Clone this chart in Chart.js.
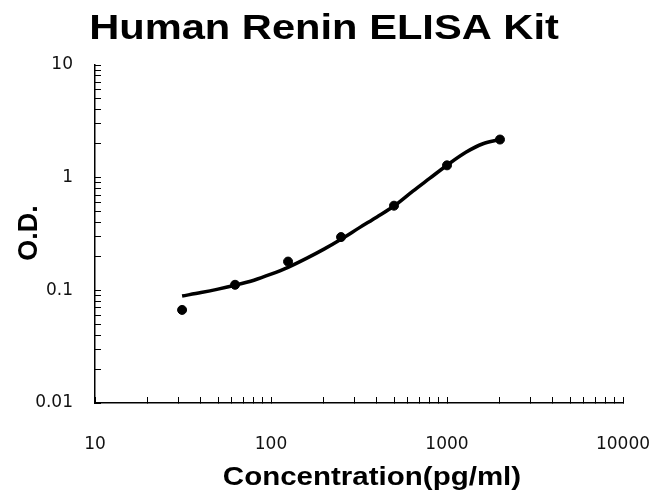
<!DOCTYPE html>
<html>
<head>
<meta charset="utf-8">
<script src="https://cdn.jsdelivr.net/npm/chart.js@4"></script>
<style>
  html, body { margin: 0; padding: 0; background: #fff; }
  #wrap { width: 654px; height: 495px; }
</style>
</head>
<body>
<div id="wrap"><canvas id="elisaChart" width="654" height="495"></canvas></div>
<script>
const chartTitle = 'Human Renin ELISA Kit';
const xAxisTitle = 'Concentration(pg/ml)';
const yAxisTitle = 'O.D.';

// standards (measured points)
const concentrations = [31.25, 62.5, 125, 250, 500, 1000, 2000];
const odValues = [0.067, 0.112, 0.180, 0.297, 0.564, 1.286, 2.18];

// fitted curve
const curveConc = [31.25, 40, 50, 62.5, 80, 100, 125, 160, 200, 250, 320, 400, 500, 640, 800, 1000, 1280, 1600, 2000];
const curveOD = [0.089, 0.0955, 0.1025, 0.111, 0.123, 0.139, 0.160, 0.193, 0.232, 0.284, 0.362, 0.448, 0.560, 0.76, 0.99, 1.29, 1.68, 2.00, 2.18];

const xTickLabels = [10, 100, 1000, 10000];
const yTickLabels = [0.01, 0.1, 1, 10];

function isLabel(list, v) {
    return list.some(t => Math.abs(t - v) / t < 1e-9);
}

// keep only 1..9 x 10^n tick marks (drop 1.5 steps)
function keepWholeSteps(scale) {
    scale.ticks = scale.ticks.filter(t => {
        const s = t.value / Math.pow(10, Math.floor(Math.log10(t.value) + 1e-9));
        return Math.abs(s - Math.round(s)) < 1e-6;
    });
}

// stretched bold titles, drawn as canvas text
const titlesPlugin = {
    id: 'titles',
    afterDraw(chart) {
        const ctx = chart.ctx;
        ctx.save();
        ctx.fillStyle = '#000';
        ctx.textAlign = 'center';
        ctx.textBaseline = 'alphabetic';

        ctx.save();
        ctx.font = 'bold 35px "Liberation Sans", Arial, sans-serif';
        ctx.translate(324, 39);
        ctx.scale(1.19, 1);
        ctx.fillText(chartTitle, 0, 0);
        ctx.restore();

        ctx.save();
        ctx.font = 'bold 25px "Liberation Sans", Arial, sans-serif';
        ctx.translate(372, 485);
        ctx.scale(1.18, 1);
        ctx.fillText(xAxisTitle, 0, 0);
        ctx.restore();

        ctx.save();
        ctx.font = 'bold 27px "Liberation Sans", Arial, sans-serif';
        ctx.translate(36.5, 233);
        ctx.rotate(-Math.PI / 2);
        ctx.fillText(yAxisTitle, 0, 0);
        ctx.restore();

        ctx.restore();
    }
};

const ctx = document.getElementById('elisaChart').getContext('2d');
const chart = new Chart(ctx, {
    type: 'scatter',
    data: {
        datasets: [
            {
                label: 'Standards',
                data: concentrations.map((c, i) => ({ x: c, y: odValues[i] })),
                backgroundColor: '#000',
                borderColor: '#000',
                pointRadius: 4.5,
                pointHoverRadius: 4.5,
                showLine: false,
                order: 0
            },
            {
                label: 'Fit',
                data: curveConc.map((c, i) => ({ x: c, y: curveOD[i] })),
                borderColor: '#000',
                borderWidth: 3.5,
                pointRadius: 0,
                showLine: true,
                cubicInterpolationMode: 'monotone',
                order: 1
            }
        ]
    },
    options: {
        responsive: false,
        animation: false,
        events: [],
        layout: { padding: { top: 65, right: 31, left: 0, bottom: 0 } },
        plugins: {
            legend: { display: false },
            title: { display: false },
            tooltip: { enabled: false }
        },
        scales: {
            x: {
                type: 'logarithmic',
                position: 'bottom',
                min: 10,
                max: 10000,
                afterBuildTicks: keepWholeSteps,
                afterFit(scale) {
                    scale.height = 92;
                    scale.paddingLeft = 0;
                    scale.paddingRight = 0;
                },
                grid: {
                    drawOnChartArea: false,
                    drawTicks: true,
                    tickLength: -6,
                    color: '#000',
                    lineWidth: 1
                },
                border: { color: '#000', width: 1.5 },
                ticks: {
                    autoSkip: false,
                    maxRotation: 0,
                    padding: 37,
                    color: '#111',
                    font: { family: 'DejaVu Sans', size: 17 },
                    callback: v => isLabel(xTickLabels, v) ? String(v) : ''
                }
            },
            y: {
                type: 'logarithmic',
                position: 'left',
                min: 0.01,
                max: 10,
                afterBuildTicks: keepWholeSteps,
                afterFit(scale) {
                    scale.width = 95;
                    scale.paddingTop = 0;
                    scale.paddingBottom = 0;
                },
                grid: {
                    drawOnChartArea: false,
                    drawTicks: true,
                    tickLength: -6,
                    color: '#000',
                    lineWidth: 1
                },
                border: { color: '#000', width: 1.5 },
                ticks: {
                    autoSkip: false,
                    padding: 28,
                    color: '#111',
                    font: { family: 'DejaVu Sans', size: 17 },
                    callback: v => isLabel(yTickLabels, v) ? String(v) : ''
                }
            }
        }
    },
    plugins: [titlesPlugin]
});
</script>
</body>
</html>
